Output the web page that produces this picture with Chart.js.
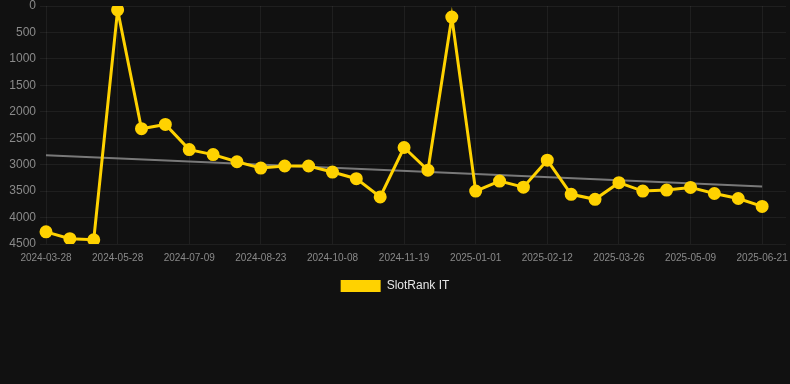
<!DOCTYPE html>
<html>
<head>
<meta charset="utf-8">
<script src="https://cdn.jsdelivr.net/npm/chart.js@4/dist/chart.umd.min.js"></script>
<style>
  html, body { margin: 0; padding: 0; background: #111111; }
  #wrap { width: 790px; height: 302px; position: relative; }
</style>
</head>
<body>
<div id="wrap"><canvas id="c"></canvas></div>
<script>
const categories = [
  '2024-03-28','2024-04-18','2024-05-08','2024-05-28','2024-06-11','2024-06-25',
  '2024-07-09','2024-07-24','2024-08-08','2024-08-23','2024-09-07','2024-09-22',
  '2024-10-08','2024-10-22','2024-11-05','2024-11-19','2024-12-03','2024-12-17',
  '2025-01-01','2025-01-15','2025-01-29','2025-02-12','2025-02-26','2025-03-12',
  '2025-03-26','2025-04-09','2025-04-24','2025-05-09','2025-05-23','2025-06-06',
  '2025-06-21','2025-07-05'
];
const rankValues = [
  4270, 4400, 4420, 75, 2320, 2240, 2715, 2810, 2945, 3065, 3025, 3025,
  3140, 3265, 3610, 2675, 3105, 210, 3500, 3310, 3425, 2915, 3560, 3655,
  3340, 3500, 3480, 3430, 3545, 3640, 3790, null
];
const trendValues = [2824, 3412];
const yTicks = [0, 500, 1000, 1500, 2000, 2500, 3000, 3500, 4000, 4500];
const seriesName = 'SlotRank IT';

const trendData = categories.map((c, i) => {
  if (i === 0) return trendValues[0];
  if (i === 30) return trendValues[1];
  return null;
});

new Chart(document.getElementById('c'), {
  type: 'line',
  data: {
    labels: categories,
    datasets: [
      {
        label: seriesName,
        data: rankValues,
        borderColor: '#FFD200',
        backgroundColor: '#FFD200',
        borderWidth: 3,
        pointRadius: 5,
        pointHoverRadius: 5,
        pointBackgroundColor: '#FFD200',
        pointBorderColor: '#FFD200',
        tension: 0,
        order: 1
      },
      {
        label: 'trend',
        data: trendData,
        borderColor: 'rgba(140,140,140,0.85)',
        borderWidth: 2,
        pointRadius: 0,
        spanGaps: true,
        fill: false,
        order: 2
      }
    ]
  },
  options: {
    responsive: true,
    maintainAspectRatio: false,
    animation: false,
    layout: { padding: 0, autoPadding: false },
    plugins: {
      legend: {
        position: 'bottom',
        labels: {
          color: '#e6e6e6',
          font: { family: 'Liberation Sans, Arial, sans-serif', size: 12 },
          boxWidth: 40,
          boxHeight: 12,
          padding: 8,
          generateLabels: (chart) => Chart.defaults.plugins.legend.labels.generateLabels(chart)
            .filter(item => item.text === seriesName)
            .map(item => Object.assign(item, { lineWidth: 0 }))
        }
      },
      tooltip: { enabled: false }
    },
    scales: {
      x: {
        afterFit: (s) => { s.paddingRight = 4; s.paddingLeft = 0; },
        grid: {
          color: (ctx) => (ctx.index % 3 === 0 ? 'rgba(255,255,255,0.06)' : 'rgba(0,0,0,0)'),
          drawTicks: false
        },
        border: { display: false },
        ticks: {
          autoSkip: false,
          maxRotation: 0,
          color: '#8a8a8a',
          padding: 8,
          font: { family: 'Liberation Sans, Arial, sans-serif', size: 10 },
          callback: function (v, i) { return i % 3 === 0 ? this.getLabelForValue(v) : ''; }
        }
      },
      y: {
        reverse: true,
        min: 0,
        max: 4500,
        afterFit: (s) => { s.width = 46; s.paddingTop = 6; s.paddingBottom = 0; },
        afterBuildTicks: (s) => { s.ticks = yTicks.map(v => ({ value: v })); },
        grid: { color: 'rgba(255,255,255,0.06)', tickLength: 6 },
        border: { display: false },
        ticks: {
          color: '#8a8a8a',
          padding: 4,
          font: { family: 'Liberation Sans, Arial, sans-serif', size: 12 },
          callback: (v) => String(v)
        }
      }
    }
  }
});
</script>
</body>
</html>
